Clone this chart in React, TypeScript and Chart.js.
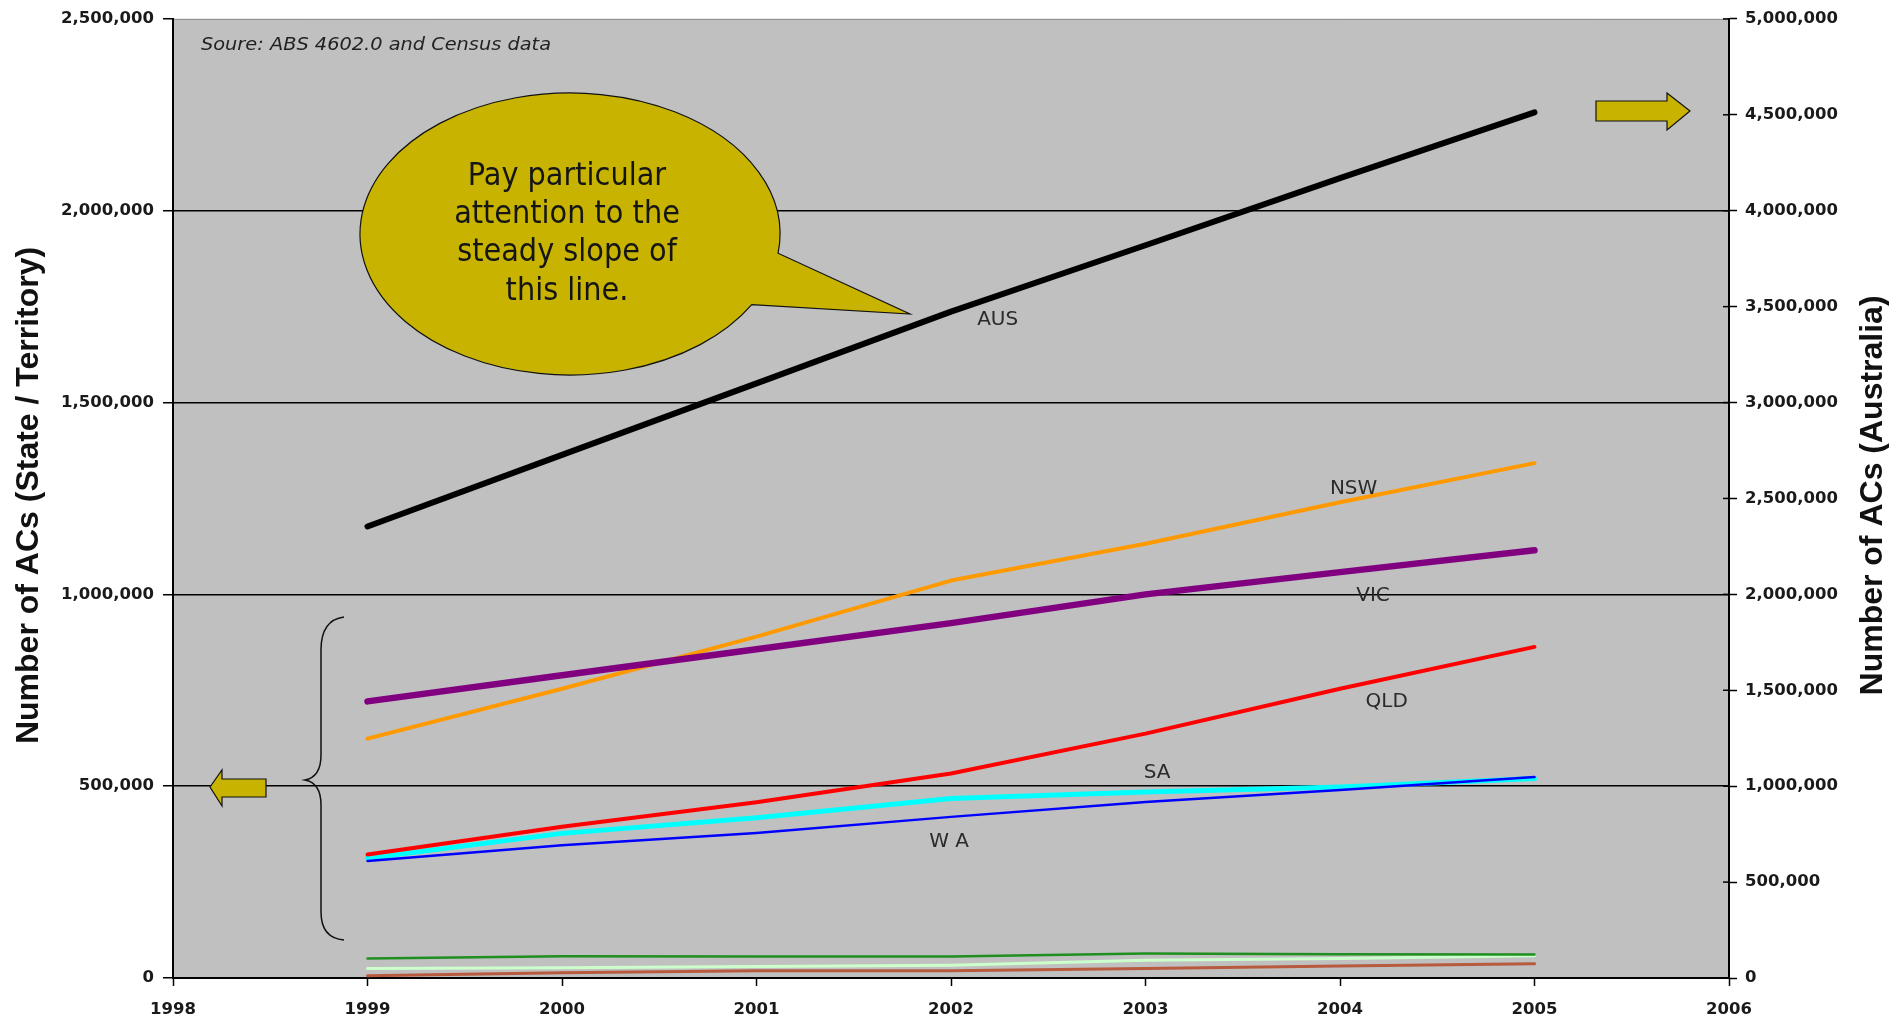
import React, { useEffect, useRef } from "react";
import { Chart, registerables } from "chart.js";

Chart.register(...registerables);

// ---- Data ----
const years = [1999, 2000, 2001, 2002, 2003, 2004, 2005];
const ausValues = [2354000, 2727000, 3100000, 3474000, 3820000, 4170000, 4513000];
const nswValues = [624000, 754000, 890000, 1036000, 1132000, 1240000, 1342000];
const vicValues = [721000, 789000, 857000, 925000, 1000000, 1058000, 1115000];
const qldValues = [322000, 394000, 458000, 533000, 637000, 754000, 863000];
const saValues = [312000, 377000, 418000, 468000, 485000, 498000, 520000];
const waValues = [305000, 346000, 378000, 420000, 459000, 490000, 524000];
const tasValues = [51000, 57000, 56000, 56000, 64000, 62000, 61000];
const actValues = [25000, 27000, 30000, 33000, 46000, 51000, 58000];
const ntValues = [6000, 14000, 19000, 19000, 25000, 31000, 37000];

const xRange = [1998, 2006];
const leftRange = [0, 2500000];
const rightRange = [0, 5000000];
const tickStep = 500000;

const sourceNote = "Soure: ABS 4602.0 and Census data";
const leftTitle = "Number of ACs (State / Territory)";
const rightTitle = "Number of ACs (Australia)";
const calloutLines = ["Pay particular", "attention to the", "steady slope of", "this line."];

// series label anchors in data coordinates (year, value, axis)
const seriesLabels = [
  { text: "AUS", x: 2002.24, y: 3432000, axis: "y2" },
  { text: "NSW", x: 2004.07, y: 1276000, axis: "y" },
  { text: "VIC", x: 2004.17, y: 997000, axis: "y" },
  { text: "QLD", x: 2004.24, y: 719000, axis: "y" },
  { text: "SA", x: 2003.06, y: 536000, axis: "y" },
  { text: "W A", x: 2001.99, y: 354000, axis: "y" },
];

const OLIVE = "#c8b400";

const fmt = (v: number) => Number(v).toLocaleString("en-US");
const pts = (vals: number[]) => years.map((yr, i) => ({ x: yr, y: vals[i] }));

function fillFitted(ctx: CanvasRenderingContext2D, text: string, x: number, y: number, width: number) {
  const w = ctx.measureText(text).width;
  const sx = w > 0 ? width / w : 1;
  ctx.save();
  ctx.translate(x, y);
  ctx.scale(sx, 1);
  ctx.fillText(text, 0, 0);
  ctx.restore();
}

const decorPlugin = {
  id: "decor",
  beforeDraw(chart: any) {
    const { ctx, chartArea: a } = chart;
    ctx.save();
    ctx.fillStyle = "#c0c0c0";
    ctx.fillRect(a.left, a.top, a.right - a.left, a.bottom - a.top);
    ctx.strokeStyle = "#8a8a8a";
    ctx.lineWidth = 1;
    ctx.beginPath();
    ctx.moveTo(a.left, a.top + 0.5);
    ctx.lineTo(a.right, a.top + 0.5);
    ctx.stroke();
    ctx.restore();
  },
  afterDatasetsDraw(chart: any) {
    const { ctx, chartArea: a, scales } = chart;
    const xs = scales.x;
    ctx.save();

    // inward ticks on right axis
    ctx.strokeStyle = "#000";
    ctx.lineWidth = 1.5;
    scales.y2.ticks.forEach((t: any) => {
      const py = scales.y2.getPixelForValue(t.value);
      ctx.beginPath();
      ctx.moveTo(a.right - 6, py);
      ctx.lineTo(a.right, py);
      ctx.stroke();
    });

    // series labels
    ctx.fillStyle = "#2a2a2a";
    ctx.font = "20px 'DejaVu Sans'";
    ctx.textAlign = "center";
    ctx.textBaseline = "middle";
    seriesLabels.forEach((l) => {
      const px = xs.getPixelForValue(l.x);
      const py = scales[l.axis].getPixelForValue(l.y);
      ctx.fillText(l.text, px, py);
    });

    // source note
    ctx.textAlign = "left";
    ctx.textBaseline = "alphabetic";
    ctx.fillStyle = "#222";
    ctx.font = "italic 18px 'DejaVu Sans'";
    fillFitted(ctx, sourceNote, a.left + 28, a.top + 31, 350);

    // callout
    const cx = 570, cy = 234, rx = 210, ry = 141;
    ctx.beginPath();
    ctx.ellipse(cx, cy, rx, ry, 0, 0.525, 0.137 + Math.PI * 2, false);
    ctx.lineTo(910, 314);
    ctx.closePath();
    ctx.fillStyle = OLIVE;
    ctx.fill();
    ctx.strokeStyle = "#111";
    ctx.lineWidth = 1.2;
    ctx.stroke();
    ctx.fillStyle = "#151515";
    ctx.font = "32px 'DejaVu Sans Condensed', 'DejaVu Sans'";
    ctx.textAlign = "center";
    ctx.textBaseline = "middle";
    const offs = [-57, -19, 19, 58];
    calloutLines.forEach((s, i) => ctx.fillText(s, cx - 3, cy + offs[i]));

    // brace
    ctx.strokeStyle = "#111";
    ctx.lineWidth = 1.5;
    ctx.beginPath();
    ctx.moveTo(344, 617);
    ctx.quadraticCurveTo(321, 620, 321, 650);
    ctx.lineTo(321, 755);
    ctx.quadraticCurveTo(321, 777, 305, 780);
    ctx.quadraticCurveTo(321, 783, 321, 805);
    ctx.lineTo(321, 912);
    ctx.quadraticCurveTo(321, 938, 344, 940);
    ctx.stroke();

    // left arrow
    ctx.beginPath();
    ctx.moveTo(210, 787);
    ctx.lineTo(222, 770);
    ctx.lineTo(222, 779);
    ctx.lineTo(266, 779);
    ctx.lineTo(266, 797);
    ctx.lineTo(222, 797);
    ctx.lineTo(222, 806);
    ctx.closePath();
    ctx.fillStyle = OLIVE;
    ctx.fill();
    ctx.strokeStyle = "#111";
    ctx.lineWidth = 1.2;
    ctx.stroke();

    // right arrow
    ctx.beginPath();
    ctx.moveTo(1690, 111);
    ctx.lineTo(1667, 93);
    ctx.lineTo(1667, 101);
    ctx.lineTo(1596, 101);
    ctx.lineTo(1596, 121);
    ctx.lineTo(1667, 121);
    ctx.lineTo(1667, 130);
    ctx.closePath();
    ctx.fill();
    ctx.stroke();

    ctx.restore();
  },
  afterDraw(chart: any) {
    const { ctx, chartArea: a } = chart;
    const cyMid = (a.top + a.bottom) / 2 - 3;
    [[29, leftTitle], [1873, rightTitle]].forEach(([x, t]) => {
      ctx.save();
      ctx.fillStyle = "#111";
      ctx.font = "bold 32px 'Liberation Sans', Arial, sans-serif";
      ctx.textAlign = "center";
      ctx.textBaseline = "middle";
      ctx.translate(x as number, cyMid);
      ctx.rotate(-Math.PI / 2);
      ctx.fillText(t as string, 0, 0);
      ctx.restore();
    });
  },
};

export default function App() {
  const ref = useRef<HTMLCanvasElement>(null);
  useEffect(() => {
    if (!ref.current) return;
    const tickFont = { family: "'DejaVu Sans'", weight: "bold" as const, size: 16.5 };
    const chart = new Chart(ref.current, {
      type: "line",
      data: {
        datasets: [
          { label: "AUS", data: pts(ausValues), yAxisID: "y2", borderColor: "#000000", borderWidth: 6 },
          { label: "WA", data: pts(waValues), yAxisID: "y", borderColor: "#0000ff", borderWidth: 2.5 },
          { label: "VIC", data: pts(vicValues), yAxisID: "y", borderColor: "#800080", borderWidth: 6.5 },
          { label: "QLD", data: pts(qldValues), yAxisID: "y", borderColor: "#ff0000", borderWidth: 4 },
          { label: "NSW", data: pts(nswValues), yAxisID: "y", borderColor: "#ff9900", borderWidth: 4 },
          { label: "SA", data: pts(saValues), yAxisID: "y", borderColor: "#00ffff", borderWidth: 5 },
          { label: "TAS", data: pts(tasValues), yAxisID: "y", borderColor: "#1f8f1f", borderWidth: 2.5 },
          { label: "ACT", data: pts(actValues), yAxisID: "y", borderColor: "#ccffcc", borderWidth: 3 },
          { label: "NT", data: pts(ntValues), yAxisID: "y", borderColor: "#b85a3e", borderWidth: 3 },
        ].map((d) => ({
          ...d,
          pointRadius: 0,
          pointHoverRadius: 0,
          tension: 0,
          fill: false,
          borderCapStyle: "round" as const,
          borderJoinStyle: "round" as const,
        })),
      },
      options: {
        responsive: false,
        animation: false,
        devicePixelRatio: 1,
        layout: { padding: { top: 18, left: 0, right: 0, bottom: 0 } },
        plugins: { legend: { display: false }, tooltip: { enabled: false } },
        events: [],
        scales: {
          x: {
            type: "linear",
            min: xRange[0],
            max: xRange[1],
            ticks: { stepSize: 1, color: "#1a1a1a", font: tickFont, padding: 14, callback: (v: any) => String(v) },
            grid: { drawOnChartArea: false, tickLength: 8, tickColor: "#000", tickWidth: 1.5 },
            border: { color: "#000", width: 2 },
            afterFit: (s: any) => { s.height = 44; },
          },
          y: {
            type: "linear",
            position: "left",
            min: leftRange[0],
            max: leftRange[1],
            ticks: { stepSize: tickStep, color: "#1a1a1a", font: tickFont, padding: 9, callback: (v: any) => fmt(v) },
            grid: {
              color: (c: any) => (c.tick && (c.tick.value === leftRange[0] || c.tick.value === leftRange[1]) ? "rgba(0,0,0,0)" : "#000"),
              lineWidth: 1.5,
              tickColor: "#000",
              tickWidth: 1.5,
              tickLength: 10,
            },
            border: { color: "#000", width: 2 },
            afterFit: (s: any) => { s.width = 173; },
          },
          y2: {
            type: "linear",
            position: "right",
            min: rightRange[0],
            max: rightRange[1],
            ticks: { stepSize: tickStep, color: "#1a1a1a", font: tickFont, padding: 8, callback: (v: any) => fmt(v) },
            grid: { drawOnChartArea: false, tickColor: "#000", tickWidth: 1.5, tickLength: 8 },
            border: { color: "#000", width: 2 },
            afterFit: (s: any) => { s.width = 171; },
          },
        },
      },
      plugins: [decorPlugin],
    });
    return () => chart.destroy();
  }, []);
  return (
    <div style={{ position: "absolute", left: 0, top: 0, width: 1900, height: 1022, background: "#fff" }}>
      <canvas ref={ref} width={1900} height={1022} style={{ display: "block" }} />
    </div>
  );
}
